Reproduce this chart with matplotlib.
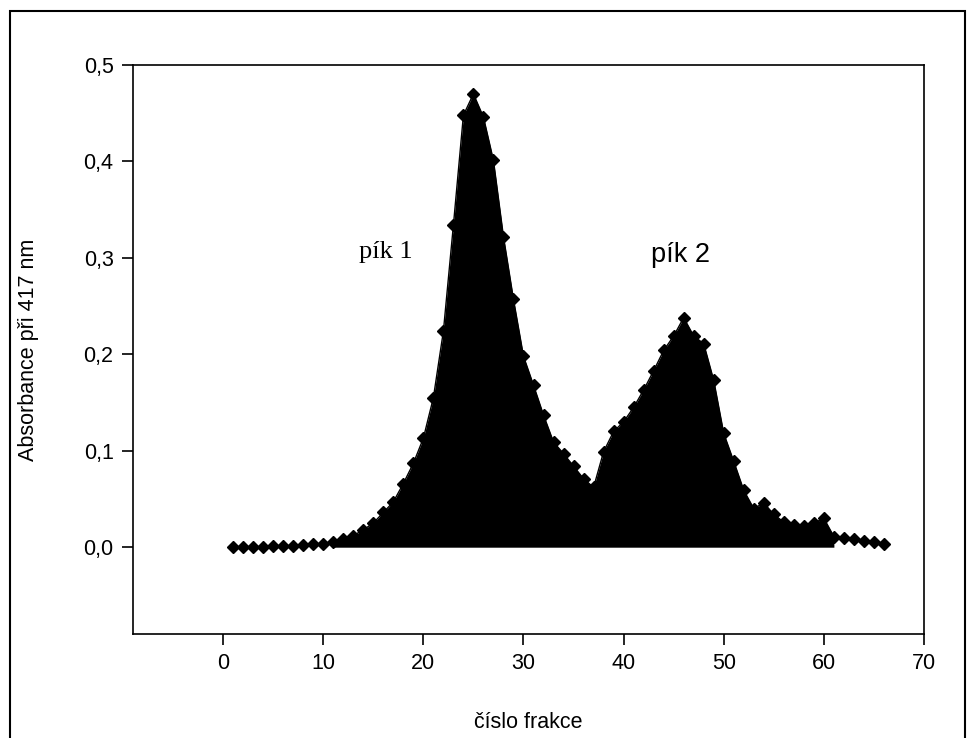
import matplotlib.pyplot as plt
from matplotlib.patches import Rectangle
from matplotlib.ticker import FuncFormatter
import numpy as np

# fraction number and absorbance at 417 nm
fraction = np.arange(1, 67)
absorbance = [0.000, 0.000, 0.000, 0.000, 0.001, 0.001, 0.001, 0.002, 0.003, 0.003,
              0.005, 0.008, 0.012, 0.018, 0.025, 0.036, 0.047, 0.066, 0.087, 0.113,
              0.155, 0.224, 0.334, 0.448, 0.470, 0.446, 0.401, 0.322, 0.257, 0.198,
              0.168, 0.137, 0.109, 0.097, 0.084, 0.071, 0.062, 0.099, 0.120, 0.130,
              0.145, 0.163, 0.183, 0.204, 0.219, 0.238, 0.219, 0.211, 0.173, 0.118,
              0.089, 0.059, 0.040, 0.046, 0.034, 0.026, 0.023, 0.022, 0.025, 0.030,
              0.011, 0.010, 0.008, 0.006, 0.005, 0.003]
absorbance = np.array(absorbance)
fill_from, fill_to = 11, 61

xticks = [0, 10, 20, 30, 40, 50, 60, 70]
yticks = [0.0, 0.1, 0.2, 0.3, 0.4, 0.5]

plt.rcParams['font.family'] = ['Liberation Sans', 'DejaVu Sans']

fig = plt.figure(figsize=(9.76, 7.38), dpi=100)
ax = fig.add_axes([133/976, 1 - 634/738, (924 - 133)/976, (634 - 65)/738])

# black filled region under the curve
m = (fraction >= fill_from) & (fraction <= fill_to)
ax.fill_between(fraction[m], absorbance[m], 0, color='black', lw=0)
ax.plot(fraction, absorbance, color='black', lw=1, marker='D', markersize=6.5)

ax.set_xlim(-9, 70)
ax.set_ylim(-0.09, 0.5)
ax.set_xticks(xticks)
ax.set_yticks(yticks)
ax.yaxis.set_major_formatter(FuncFormatter(lambda v, p: f'{v:.1f}'.replace('.', ',')))
ax.tick_params(direction='out', length=8, width=1.2, labelsize=15.5, pad=6)
for s in ax.spines.values():
    s.set_linewidth(1.2)

ax.set_xlabel('číslo frakce', fontsize=15.5, labelpad=27)
ax.set_ylabel('Absorbance při 417 nm', fontsize=15.5, labelpad=32)

ax.text(16.2, 0.306, 'pík 1', fontsize=19, family='Liberation Serif', ha='center', va='center')
ax.text(45.7, 0.303, 'pík 2', fontsize=19.5, ha='center', va='center')

# border around the whole picture
fig.patches.append(Rectangle((10/976, -0.01), (965 - 10)/976, 1.01 - 11/738,
                             transform=fig.transFigure, fill=False, ec='black', lw=1.5))

fig.savefig('out.png', dpi=100)
